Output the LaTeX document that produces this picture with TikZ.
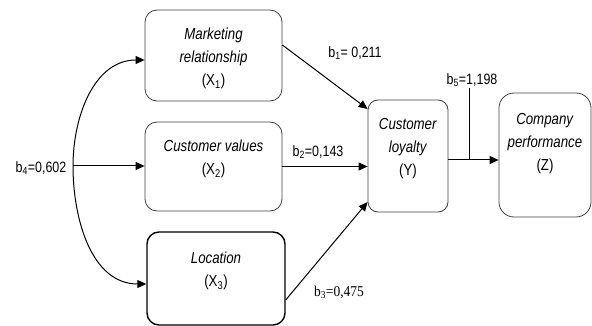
\documentclass[tikz,border=0pt]{standalone}
\usepackage{fontspec}
\setmainfont{Liberation Sans}[FakeStretch=0.83]
\newfontfamily\coefserif{Liberation Serif}[FakeStretch=0.9]
\usetikzlibrary{arrows.meta, positioning}
\tikzset{
	factor/.style={rectangle, rounded corners=12pt, draw=black!75, line width=0.8pt, inner sep=0pt, font=\fontsize{16}{23}\selectfont},
	arrow/.style={line width=1pt, -{Triangle[length=9pt,width=8pt]}},
	coef/.style={inner sep=1pt, font=\fontsize{15}{18}\selectfont}
}

\begin{document}
\begin{tikzpicture}[x=1pt, y=-1pt]
		\useasboundingbox (0,0) rectangle (592,326);
		
		% Nodes (using \parbox to keep the box size and the text position)
		\node (X1) [factor] at (213.5,55.5) {\parbox[c][91pt][t]{137pt}{\centering\vspace*{18pt}\textit{Marketing}\\ \textit{relationship}\\ (X\textsubscript{1})}};
		\node (X2) [factor] at (213.5,166.5) {\parbox[c][89pt][t]{137pt}{\centering\vspace*{18pt}\textit{Customer values}\\ (X\textsubscript{2})}};
		\node (X3) [factor, draw=black, line width=1.4pt] at (216,278.5) {\parbox[c][93pt][t]{138pt}{\centering\vspace*{20pt}\textit{Location}\\ (X\textsubscript{3})}};
		\node (Y) [factor, rounded corners=10pt] at (408,156) {\parbox[c][112pt][t]{80pt}{\centering\vspace*{18pt}\textit{Customer}\\ \textit{loyalty}\\ (Y)}};
		\node (Z) [factor, rounded corners=15pt] at (545,155) {\parbox[c][124pt][t]{92pt}{\centering\vspace*{20pt}\textit{Company}\\ \textit{performance}\\ (Z)}};
		
		% Coefficients
		\node (b1) [coef] at (355,53) {b\textsubscript{1}= 0,211};
		\node (b2) [coef] at (318,152) {b\textsubscript{2}=0,143};
		\node (b3) [coef, font=\coefserif\fontsize{15}{18}\selectfont] at (339,292) {b\textsubscript{3}=0,475};
		\node (b4) [coef] at (41,168) {b\textsubscript{4}=0,602};
		\node (b5) [coef] at (472,80) {b\textsubscript{5}=1,198};
		\coordinate (s) at (73,166);
		\coordinate (j) at (469,160);
		
		% Arrows with path coefficients
		\draw [arrow] ([yshift=10.5pt]X1.east) -- ([yshift=47pt]Y.west);
		\draw [arrow] (X2.east) -- (X2.east -| Y.west);
		\draw [arrow] ([yshift=-21.5pt]X3.east) -- ([yshift=-46pt]Y.west);
		\draw [arrow] ([yshift=-4pt]Y.east) -- ([yshift=-4pt]Y.east -| Z.west);
		\draw [line width=1pt] (j) -- (j |- b5.south);
		
		% Correlation between the independent variables
		\draw [arrow] (s) -- (s -| X2.west);
		\draw [arrow] (s) to[out=90, in=180] ([yshift=-4.5pt]X1.west);
		\draw [arrow] (s) to[out=-90, in=180] ([yshift=-5.5pt]X3.west);
		
	\end{tikzpicture}
\end{document}
